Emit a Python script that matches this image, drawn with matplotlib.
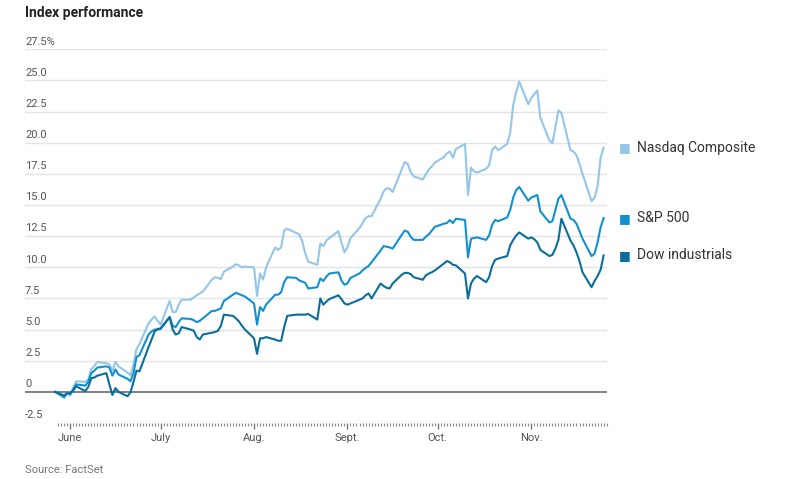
import matplotlib
matplotlib.use('Agg')
import matplotlib.pyplot as plt
import matplotlib.transforms as mtransforms
import pandas as pd

plt.rcParams['font.family'] = ['Roboto', 'DejaVu Sans']

# daily % change since start, one value per trading day
nasdaq = [0, -0.5, -0.1, -0.3, 0.35, 0.85,
          0.8, 1.0, 1.83, 2.07, 2.4,
          2.3, 2.2, 1.7, 2.4, 2.05,
          1.55, 1.35, 2.2, 3.45, 3.85,
          5.5, 5.8, 6.05, 5.7, 5.4,
          7.3, 6.4, 6.4, 7.0, 7.4,
          7.4, 7.6, 7.75, 7.9, 8.05,
          9.0, 9.2, 9.15, 9.05, 9.65,
          10.05, 10.25, 10.15, 10.0, 10.05,
          10.0, 7.7, 9.5, 9.0, 10.0,
          11.6, 11.4, 11.6, 12.95, 13.1,
          12.75, 12.65, 12.1, 11.1, 10.45,
          10.2, 11.9, 11.7, 12.15, 12.35,
          12.9, 12.0, 11.2, 11.6, 12.35,
          13.15, 13.55, 13.95, 14.1, 14.1,
          15.5, 16.1, 16.35, 16.3, 16.05,
          17.85, 18.45, 18.3, 17.6, 17.3,
          17.05, 17.45, 17.85, 18.1, 18.4,
          18.85, 19.15, 19.3, 18.8, 19.5,
          19.9, 15.8, 18.0, 17.7, 17.6,
          17.9, 18.2, 19.4, 19.7, 19.4,
          19.9, 20.8, 23.0, 24.1, 24.9,
          23.1, 23.6, 23.9, 24.2, 22.0,
          20.2, 19.95, 21.3, 22.6, 22.4,
          19.4, 19.3, 19.0, 18.3, 17.5,
          15.3, 15.6, 16.5, 18.8, 19.6]

sp500 = [0, -0.4, -0.1, -0.2, 0.2, 0.6,
         0.5, 0.8, 1.5, 1.7, 1.95,
         2.05, 1.95, 1.3, 1.8, 1.4,
         1.05, 0.85, 1.5, 2.8, 2.95,
         4.6, 4.85, 5.0, 5.0, 5.05,
         6.0, 5.3, 5.2, 5.6, 5.9,
         5.85, 5.75, 5.6, 5.7, 5.9,
         6.5, 6.5, 6.6, 6.7, 7.3,
         7.8, 7.95, 7.85, 7.75, 7.65,
         7.1, 5.4, 6.8, 6.5, 7.0,
         7.8, 7.8, 8.0, 8.8, 9.2,
         9.15, 8.95, 8.85, 8.75, 8.3,
         8.4, 9.1, 8.9, 9.25, 9.5,
         9.6, 8.95, 8.6, 8.7, 9.15,
         9.5, 9.75, 9.95, 10.1, 10.4,
         11.35, 11.7, 11.65, 11.6, 11.5,
         12.6, 12.95, 12.85, 12.45, 12.2,
         12.2, 12.45, 12.65, 12.95, 13.25,
         13.5, 13.55, 13.8, 13.55, 13.9,
         13.8, 10.8, 12.3, 12.35, 12.4,
         12.2, 12.55, 13.4, 13.8, 13.7,
         14.0, 14.6, 15.6, 16.2, 16.45,
         15.35, 15.6, 15.7, 15.8, 14.5,
         13.6, 13.7, 14.6, 15.5, 15.8,
         13.9, 13.8, 13.5, 12.9, 12.3,
         10.9, 11.1, 12.0, 13.2, 13.95]

dow = [0, -0.3, -0.1, -0.1, 0.1, 0.45,
       0.05, 0.4, 1.1, 1.15, 1.3,
       1.5, 0.6, -0.25, 0.3, 0.0,
       -0.35, -0.05, 0.8, 1.7, 1.65,
       3.6, 4.2, 4.85, 5.05, 5.1,
       6.0, 5.0, 4.6, 4.7, 5.2,
       5.0, 4.9, 4.4, 4.2, 4.6,
       4.75, 4.8, 4.9, 5.3, 6.2,
       6.1, 5.9, 5.65, 5.3, 5.0,
       4.3, 3.05, 4.3, 4.3, 4.4,
       4.2, 4.1, 4.1, 5.2, 6.1,
       6.2, 6.2, 6.2, 6.2, 6.25,
       5.8, 7.5, 7.0, 7.25, 7.45,
       7.75, 7.45, 7.1, 7.0, 7.1,
       7.4, 7.5, 7.75, 7.9, 7.5,
       8.7, 8.5, 8.35, 8.3, 8.7,
       9.4, 9.55, 9.55, 9.45, 9.2,
       9.0, 9.35, 9.5, 9.6, 9.75,
       10.3, 10.5, 10.4, 10.2, 10.15,
       9.5, 7.5, 8.7, 9.1, 9.3,
       8.8, 9.2, 10.1, 10.6, 10.7,
       10.9, 11.75, 12.2, 12.55, 12.8,
       12.3, 12.4, 12.25, 12.0, 11.4,
       10.9, 11.0, 11.5, 12.2, 13.9,
       12.15, 11.75, 11.2, 10.5, 9.6,
       8.4, 8.9, 9.3, 9.8, 10.95]

dates = pd.bdate_range('2022-05-27', periods=len(nasdaq))

series = [nasdaq, sp500, dow]
names = ['Nasdaq Composite', 'S&P 500', 'Dow industrials']
colors = ['#93c6e8', '#1190d0', '#0a6d9c']

yticks = [-2.5, 0, 2.5, 5.0, 7.5, 10.0, 12.5, 15.0, 17.5, 20.0, 22.5, 25.0, 27.5]
ylabels = ['-2.5', '0', '2.5', '5.0', '7.5', '10.0', '12.5', '15.0',
           '17.5', '20.0', '22.5', '25.0', '27.5%']
months = ['2022-06-01', '2022-07-01', '2022-08-01', '2022-09-01', '2022-10-01', '2022-11-01']
month_labels = ['June', 'July', 'Aug.', 'Sept.', 'Oct.', 'Nov.']

fig = plt.figure(figsize=(8.07, 4.79), dpi=100)
ax = fig.add_axes([25/807, 56/479, 582/807, 373.7/479])

# gridlines
for y in yticks[2:]:
    ax.axhline(y, color='#e3e3e3', lw=1, zorder=0)
ax.axhline(0, color='#6b6b6b', lw=1.2, zorder=1)

for vals, c in zip(series, colors):
    ax.plot(dates, vals, color=c, lw=1.5, solid_joinstyle='round', zorder=3)

ax.set_ylim(-2.5, 27.5)
ax.set_xlim(pd.Timestamp('2022-05-17'), pd.Timestamp('2022-11-26 03:00'))

# y labels sit above the gridlines
trans = mtransforms.blended_transform_factory(ax.transAxes, ax.transData)
for y, lab in zip(yticks, ylabels):
    ax.annotate(lab, xy=(0, y), xycoords=trans, xytext=(0, 2), textcoords='offset points',
                ha='left', va='bottom', fontsize=8, color='#555555')
ax.set_yticks([])

ax.set_xticks(pd.to_datetime(months))
ax.set_xticklabels(month_labels)
ax.set_xticks(pd.date_range('2022-05-28', '2022-11-26'), minor=True)
ax.tick_params(axis='x', which='major', length=4, width=1, color='#777777',
               labelsize=8, labelcolor='#555555', pad=3)
ax.tick_params(axis='x', which='minor', length=2, width=0.8, color='#888888')
for s in ax.spines.values():
    s.set_visible(False)

# end labels
for vals, c, n in zip(series, colors, names):
    ax.annotate('■', xy=(dates[-1], vals[-1]), xytext=(11, 0), textcoords='offset points',
                ha='left', va='center', fontsize=9, color=c, family='DejaVu Sans',
                annotation_clip=False)
    ax.annotate(n, xy=(dates[-1], vals[-1]), xytext=(24, 0), textcoords='offset points',
                ha='left', va='center', fontsize=10, color='#333333', annotation_clip=False)

fig.text(25/807, 1 - 13/479, 'Index performance', fontsize=10, fontweight='bold',
         color='#222222', ha='left', va='center')
fig.text(25/807, 1 - 470/479, 'Source: FactSet', fontsize=8, color='#777777',
         ha='left', va='center')

fig.savefig('out.png', dpi=100)
